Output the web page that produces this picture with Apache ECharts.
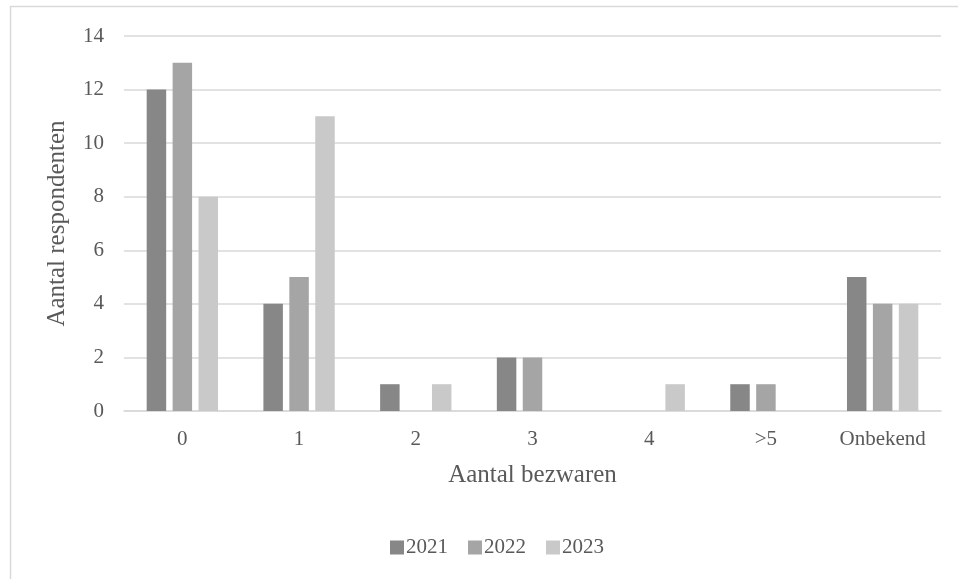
<!DOCTYPE html>
<html><head><meta charset="utf-8">
<script src="https://cdn.jsdelivr.net/npm/echarts@6/dist/echarts.min.js"></script>
<style>html,body{margin:0;padding:0;background:#fff}#c{width:958px;height:579px}</style>
</head><body><div id="c"></div>
<script>
const categories = ['0','1','2','3','4','>5','Onbekend'];
const years = ['2021','2022','2023'];
const v2021 = [12,4,1,2,0,1,5];
const v2022 = [13,5,0,2,0,1,4];
const v2023 = [8,11,1,0,1,0,4];
const colors = ['#878787','#a5a5a5','#c9c9c9'];
const yTicks = {min:0,max:14,interval:2};
const font = '"Liberation Serif", "DejaVu Serif", serif';
const chart = echarts.init(document.getElementById('c'));
const vals = [v2021,v2022,v2023];
chart.setOption({
  animation:false,
  textStyle:{fontFamily:font},
  graphic:[{type:'rect',shape:{x:10.5,y:6.5,width:1000,height:700},style:{fill:'none',stroke:'#d9d9d9',lineWidth:1.5},silent:true}],
  grid:{left:124,right:17,top:36,bottom:168},
  legend:{top:532,left:385,itemWidth:14,itemHeight:14,itemGap:20,icon:'rect',
    textStyle:{fontFamily:font,fontSize:21,color:'#595959',padding:[0,0,0,-3]},data:years},
  xAxis:{type:'category',data:categories,
    name:'Aantal bezwaren',nameLocation:'middle',nameGap:52,
    nameTextStyle:{fontFamily:font,fontSize:25,color:'#595959'},
    axisLine:{lineStyle:{color:'#d9d9d9',width:1.5}},axisTick:{show:false},
    axisLabel:{fontFamily:font,fontSize:21,color:'#595959',margin:18}},
  yAxis:{type:'value',min:yTicks.min,max:yTicks.max,interval:yTicks.interval,
    name:'Aantal respondenten',nameLocation:'middle',nameGap:54,nameRotate:90,
    nameTextStyle:{fontFamily:font,fontSize:25,color:'#595959'},
    axisLine:{show:false},axisTick:{show:false},
    axisLabel:{fontFamily:font,fontSize:21,color:'#595959',margin:20},
    splitLine:{lineStyle:{color:'#d9d9d9',width:1.5}}},
  series: years.map((y,i)=>({name:y,type:'bar',data:vals[i],barWidth:'16.7%',barGap:'33%',
    itemStyle:{color:colors[i]}}))
});
</script></body></html>
